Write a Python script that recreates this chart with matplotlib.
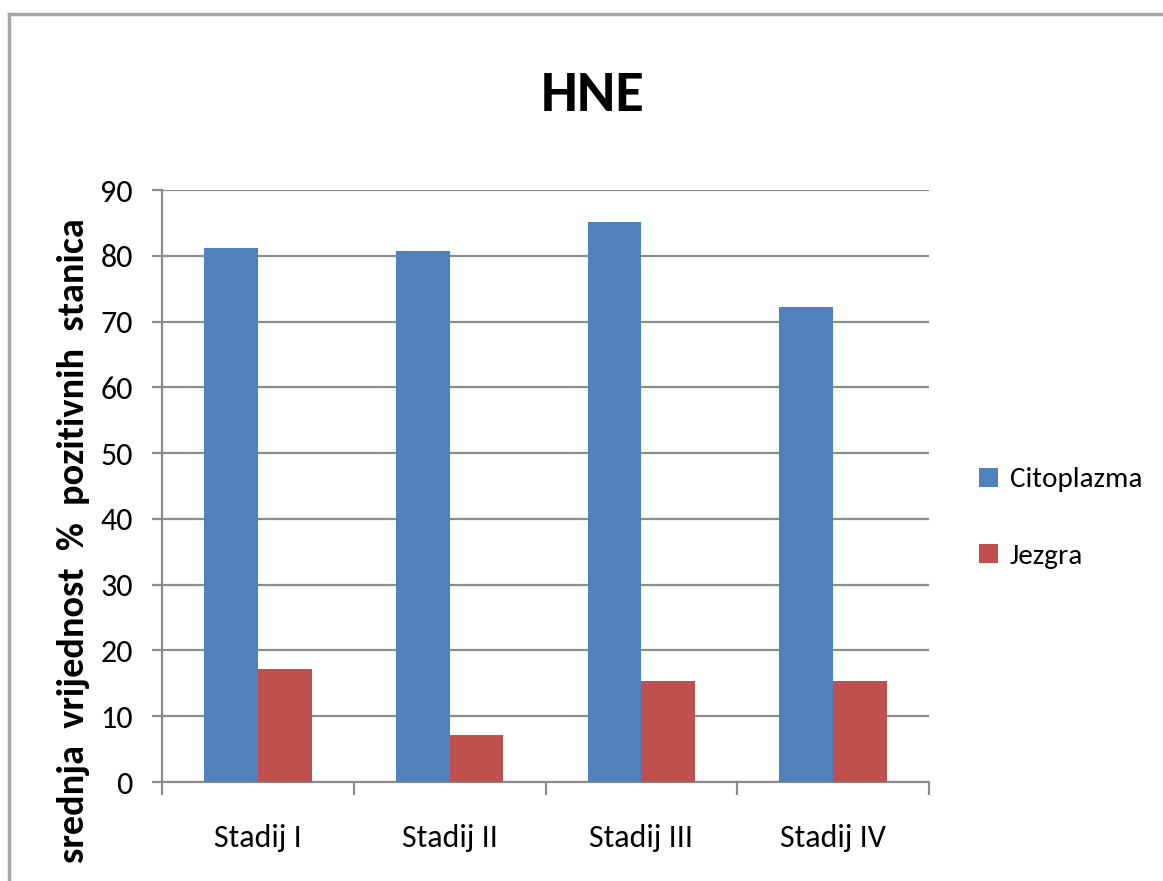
import matplotlib
matplotlib.use("Agg")
import matplotlib.pyplot as plt
from matplotlib.lines import Line2D
from matplotlib.patches import Patch
import numpy as np

categories = ["Stadij I", "Stadij II", "Stadij III", "Stadij IV"]
citoplazma = [81.2, 80.8, 85.2, 72.2]
jezgra = [17.2, 7.1, 15.3, 15.3]
y_ticks = [0, 10, 20, 30, 40, 50, 60, 70, 80, 90]

FONT = ["Carlito", "DejaVu Sans"]
BLUE = "#4F81BD"
RED = "#C0504D"
GRID = "#8C8C8C"

W, H = 1163, 881
fig = plt.figure(figsize=(W / 100, H / 100), dpi=100)
fig.patch.set_facecolor("white")

# outer chart frame (top and left edges)
fig.add_artist(Line2D([9 / W, 1.0], [1 - 13.5 / H, 1 - 13.5 / H],
                      transform=fig.transFigure, color="#A6A6A6", lw=2.5))
fig.add_artist(Line2D([9 / W, 9 / W], [1 - 13.5 / H, 0.0],
                      transform=fig.transFigure, color="#A6A6A6", lw=2.5))

left, right, top, bottom = 162, 929, 190, 782
ax = fig.add_axes([left / W, 1 - bottom / H, (right - left) / W, (bottom - top) / H])

x = np.arange(len(categories))
bw = 0.28
ax.bar(x - bw / 2, citoplazma, width=bw, color=BLUE, zorder=3, label="Citoplazma")
ax.bar(x + bw / 2, jezgra, width=bw, color=RED, zorder=3, label="Jezgra")

ax.set_xlim(-0.5, len(categories) - 0.5)
ax.set_ylim(0, 90)
ax.set_yticks(y_ticks)
ax.set_yticklabels([str(v) for v in y_ticks], family=FONT, fontsize=23)
ax.yaxis.grid(True, color=GRID, lw=1.6, zorder=0)
ax.set_axisbelow(True)

# category boundaries carry the x tick marks, labels sit at centres
ax.set_xticks(np.arange(-0.5, len(categories)), minor=False)
ax.set_xticklabels([""] * (len(categories) + 1))
ax.set_xticks(x, minor=True)
ax.set_xticklabels(categories, minor=True, family=FONT, fontsize=23)
ax.tick_params(axis="x", which="major", length=9, width=1.6, color=GRID, direction="out")
ax.tick_params(axis="x", which="minor", length=0, pad=30)
ax.tick_params(axis="y", length=7, width=1.6, color=GRID, direction="out", pad=14)

for s in ["top", "right"]:
    ax.spines[s].set_visible(False)
for s in ["left", "bottom"]:
    ax.spines[s].set_color(GRID)
    ax.spines[s].set_linewidth(1.6)

fig.text(593 / W, 1 - 95 / H, "HNE", family=FONT, fontweight="bold",
         fontsize=42, ha="center", va="center")

fig.text(74 / W, 1 - 541 / H, "srednja  vrijednost  %  pozitivnih  stanica",
         family=FONT, fontweight="bold", fontsize=27.5, rotation=90,
         ha="center", va="center")

handles = [Patch(facecolor=BLUE, label="Citoplazma"),
           Patch(facecolor=RED, label="Jezgra")]
leg = fig.legend(handles=handles, loc="center left",
                 bbox_to_anchor=(953 / W, 1 - 518 / H), frameon=False,
                 prop={"family": FONT, "size": 21},
                 handlelength=0.65, handleheight=0.65, handletextpad=0.4,
                 labelspacing=1.75)

fig.savefig("out.png", dpi=100)
